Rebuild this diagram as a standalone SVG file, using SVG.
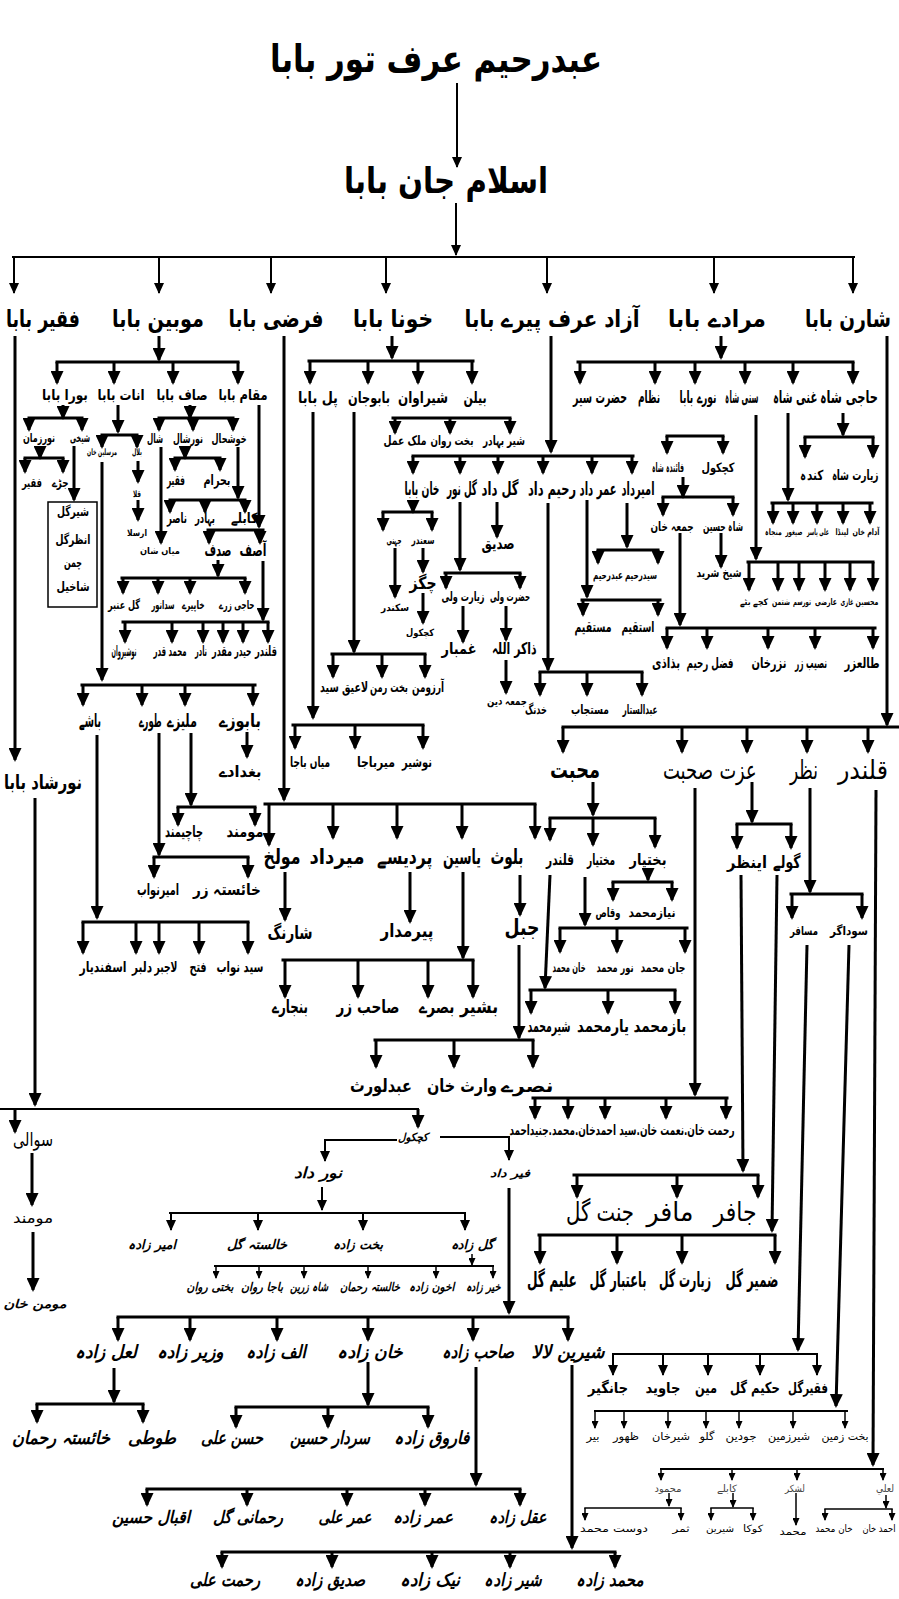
<svg xmlns="http://www.w3.org/2000/svg" width="899" height="1599" viewBox="0 0 899 1599">
<style>
text{font-family:'DejaVu Sans',sans-serif;text-anchor:middle;fill:#000}
.b{font-weight:bold}
.i{font-weight:bold;font-style:italic}
.g{fill:#444}
.s9{font-size:9px}.s10{font-size:10px}.s11{font-size:11px}.s12{font-size:12px}.s13{font-size:13px}.s14{font-size:14px}.s15{font-size:15px}.s16{font-size:16px}.s17{font-size:17px}.s18{font-size:18px}.s19{font-size:19px}.s20{font-size:20px}.s21{font-size:21px}.s22{font-size:22px}.s24{font-size:24px}.s26{font-size:26px}.s36{font-size:36px}.s38{font-size:38px}
.a{stroke:#000;stroke-width:3;fill:none;marker-end:url(#ah)}
.a2{stroke:#000;stroke-width:2;fill:none;marker-end:url(#ah2)}
.a3{stroke:#000;stroke-width:1.5;fill:none;marker-end:url(#ah3)}
.l{stroke:#000;stroke-width:3;fill:none;stroke-linecap:square}
.l2{stroke:#000;stroke-width:2;fill:none;stroke-linecap:square}
.l1{stroke:#000;stroke-width:1.5;fill:none;stroke-linecap:square}
</style>
<defs>
<marker id="ah" viewBox="0 0 14 13" refX="12" refY="6.5" markerWidth="14" markerHeight="13" markerUnits="userSpaceOnUse" orient="auto"><path d="M0,0L14,6.5L0,13z"/></marker>
<marker id="ah2" viewBox="0 0 11 10" refX="10" refY="5" markerWidth="11" markerHeight="10" markerUnits="userSpaceOnUse" orient="auto"><path d="M0,0L11,5L0,10z"/></marker>
<marker id="ah3" viewBox="0 0 8 7" refX="7" refY="3.5" markerWidth="8" markerHeight="7" markerUnits="userSpaceOnUse" orient="auto"><path d="M0,0L8,3.5L0,7z"/></marker>
</defs>
<rect width="899" height="1599" fill="#fff"/>
<g id="connectors">
<path class="a2" d="M457 83V167"/><path class="a2" d="M456 203V255"/><path class="l2" d="M13 257H854"/>
<path class="a2" d="M14 257V293"/><path class="a2" d="M159 257V293"/><path class="a2" d="M271 257V293"/><path class="a2" d="M386 257V293"/><path class="a2" d="M547 257V293"/><path class="a2" d="M714 257V293"/><path class="a2" d="M853 257V293"/>
<path class="a" d="M15 336V760"/>
<path class="a" d="M159 336V360"/><path class="l" d="M57 362H238"/>
<path class="a" d="M57 362V383"/><path class="a" d="M114 362V383"/><path class="a" d="M173 362V383"/><path class="a" d="M238 362V383"/>
<path class="a" d="M63 405V418"/><path class="l" d="M29 418H82"/><path class="a" d="M29 418V430"/><path class="a" d="M82 418V430"/>
<path class="a" d="M40 446V458"/><path class="l" d="M25 458H63"/><path class="a" d="M25 458V472"/><path class="a" d="M63 458V472"/>
<path class="a" d="M74 446V500"/>
<rect x="48" y="502" width="49" height="105" fill="none" stroke="#000" stroke-width="1.5"/>
<path class="a" d="M118 405V432"/><path class="l" d="M102 435H137"/><path class="a" d="M102 435V447"/><path class="a" d="M137 435V447"/>
<path class="a" d="M102 462V680"/>
<path class="a" d="M138 461V482"/><path class="a" d="M138 500V520"/>
<path class="a" d="M190 405V418"/><path class="l" d="M159 418H233"/><path class="a" d="M159 418V430"/><path class="a" d="M193 418V430"/><path class="a" d="M233 418V430"/>
<path class="a" d="M161 447V543"/>
<path class="a" d="M185 447V458"/><path class="l" d="M175 458H220"/><path class="a" d="M175 458V470"/><path class="a" d="M220 458V470"/>
<path class="a" d="M238 447V498"/><path class="l" d="M170 500H245"/><path class="a" d="M170 500V512"/><path class="a" d="M205 500V512"/><path class="a" d="M245 500V512"/>
<path class="a" d="M259 405V527"/><path class="l" d="M208 530H263"/><path class="a" d="M209 530V543"/><path class="a" d="M260 530V543"/>
<path class="a" d="M218 560V576"/><path class="l" d="M122 578H245"/><path class="a" d="M123 578V593"/><path class="a" d="M158 578V593"/><path class="a" d="M190 578V593"/><path class="a" d="M245 578V593"/>
<path class="a" d="M263 561V620"/><path class="l" d="M123 622H268"/><path class="a" d="M125 622V642"/><path class="a" d="M172 622V642"/><path class="a" d="M203 622V642"/><path class="a" d="M223 622V642"/><path class="a" d="M243 622V642"/><path class="a" d="M268 622V642"/>
<path class="l" d="M82 685H255"/><path class="a" d="M83 685V705"/><path class="a" d="M142 685V705"/><path class="a" d="M185 685V705"/><path class="a" d="M253 685V705"/>
<path class="a" d="M247 732V757"/>
<path class="a" d="M191 733V805"/><path class="l" d="M178 807H255"/><path class="a" d="M178 807V825"/><path class="a" d="M255 807V825"/>
<path class="a" d="M159 733V855"/><path class="l" d="M154 857H248"/><path class="a" d="M154 857V877"/><path class="a" d="M248 857V877"/>
<path class="a" d="M97 735V918"/><path class="l" d="M83 922H248"/><path class="a" d="M83 922V953"/><path class="a" d="M136 922V953"/><path class="a" d="M159 922V953"/><path class="a" d="M199 922V953"/><path class="a" d="M248 922V953"/>
<path class="a" d="M35 798V1105"/><path class="l2" d="M0 1109H418"/><path class="a" d="M15 1109V1132"/><path class="a" d="M418 1109V1127"/>
<path class="a" d="M32 1153V1205"/><path class="a" d="M33 1232V1290"/>
<path class="a2" d="M440 1137H509V1160"/><path class="a2" d="M397 1140H325V1161"/>
<path class="a2" d="M322 1187V1210"/><path class="l2" d="M170 1213H465"/><path class="a2" d="M171 1213V1230"/><path class="a2" d="M258 1213V1230"/><path class="a2" d="M363 1213V1230"/><path class="a2" d="M465 1213V1230"/>
<path class="a3" d="M472 1254V1265"/><path class="l2" d="M215 1266H493"/><path class="a3" d="M216 1266V1278"/><path class="a3" d="M259 1266V1278"/><path class="a3" d="M304 1266V1278"/><path class="a3" d="M368 1266V1278"/><path class="a3" d="M436 1266V1278"/><path class="a3" d="M493 1266V1278"/>
<path class="a" d="M509 1188V1313"/><path class="l" d="M118 1317H568"/><path class="a" d="M118 1317V1340"/><path class="a" d="M190 1317V1340"/><path class="a" d="M277 1317V1340"/><path class="a" d="M368 1317V1340"/><path class="a" d="M473 1317V1340"/><path class="a" d="M568 1317V1340"/>
<path class="a" d="M114 1368V1402"/><path class="l" d="M37 1404H143"/><path class="a" d="M37 1404V1422"/><path class="a" d="M143 1404V1422"/>
<path class="a" d="M368 1362V1405"/><path class="l" d="M236 1407H428"/><path class="a" d="M236 1407V1427"/><path class="a" d="M328 1407V1427"/><path class="a" d="M428 1407V1427"/>
<path class="a" d="M476 1367V1485"/><path class="l" d="M147 1489H520"/><path class="a" d="M147 1489V1505"/><path class="a" d="M247 1489V1505"/><path class="a" d="M347 1489V1505"/><path class="a" d="M425 1489V1505"/><path class="a" d="M520 1489V1505"/>
<path class="a" d="M572 1365V1548"/><path class="l" d="M222 1552H615"/><path class="a" d="M222 1552V1567"/><path class="a" d="M332 1552V1567"/><path class="a" d="M432 1552V1567"/><path class="a" d="M510 1552V1567"/><path class="a" d="M615 1552V1567"/>
<path class="a" d="M284 336V800"/><path class="l" d="M265 804H535"/><path class="a" d="M269 804V845"/><path class="a" d="M333 804V838"/><path class="a" d="M397 804V838"/><path class="a" d="M462 804V838"/><path class="a" d="M535 804V838"/>
<path class="a" d="M285 872V920"/><path class="a" d="M410 872V922"/>
<path class="a" d="M463 872V958"/><path class="l" d="M283 960H473"/><path class="a" d="M285 960V997"/><path class="a" d="M358 960V997"/><path class="a" d="M428 960V997"/><path class="a" d="M473 960V997"/>
<path class="a" d="M520 875V915"/>
<path class="a" d="M519 945V1038"/><path class="l" d="M375 1040H533"/><path class="a" d="M376 1040V1067"/><path class="a" d="M454 1040V1067"/><path class="a" d="M533 1040V1067"/>
<path class="a" d="M392 336V358"/><path class="l" d="M309 361H473"/><path class="a" d="M310 361V383"/><path class="a" d="M368 361V383"/><path class="a" d="M418 361V383"/><path class="a" d="M472 361V383"/>
<path class="l" d="M393 418H510"/><path class="a" d="M395 418V433"/><path class="a" d="M450 418V433"/><path class="a" d="M510 418V433"/>
<path class="a" d="M313 412V718"/><path class="l" d="M293 725H423"/><path class="a" d="M295 725V748"/><path class="a" d="M355 725V748"/><path class="a" d="M423 725V748"/>
<path class="a" d="M354 412V652"/><path class="l" d="M332 654H425"/><path class="a" d="M333 654V677"/><path class="a" d="M382 654V677"/><path class="a" d="M425 654V677"/>
<path class="a" d="M551 336V452"/><path class="l" d="M413 456H633"/><path class="a" d="M413 456V473"/><path class="a" d="M460 456V473"/><path class="a" d="M498 456V473"/><path class="a" d="M543 456V473"/><path class="a" d="M592 456V473"/><path class="a" d="M632 456V473"/>
<path class="a" d="M413 500V512"/><path class="l" d="M383 512H432"/><path class="a" d="M383 512V530"/><path class="a" d="M432 512V530"/>
<path class="a" d="M395 548V597"/><path class="a" d="M423 548V572"/><path class="a" d="M423 593V623"/>
<path class="a" d="M460 502V570"/><path class="l" d="M445 573H520"/><path class="a" d="M446 573V588"/><path class="a" d="M520 573V588"/>
<path class="a" d="M463 606V642"/><path class="a" d="M506 606V640"/><path class="a" d="M506 660V693"/>
<path class="a" d="M497 502V537"/>
<path class="a" d="M548 503V670"/><path class="l" d="M540 672H642"/><path class="a" d="M540 672V695"/><path class="a" d="M587 672V695"/><path class="a" d="M642 672V695"/>
<path class="a" d="M587 500V597"/><path class="l" d="M582 600H660"/><path class="a" d="M583 600V615"/><path class="a" d="M658 600V615"/>
<path class="a" d="M627 503V547"/><path class="l" d="M598 550H658"/><path class="a" d="M598 550V563"/><path class="a" d="M658 550V563"/>
<path class="a" d="M721 336V358"/><path class="l" d="M578 362H853"/><path class="a" d="M580 362V383"/><path class="a" d="M655 362V383"/><path class="a" d="M695 362V383"/><path class="a" d="M745 362V383"/><path class="a" d="M793 362V383"/><path class="a" d="M853 362V383"/>
<path class="a" d="M843 413V435"/><path class="l" d="M805 437H873"/><path class="a" d="M805 437V457"/><path class="a" d="M873 437V457"/>
<path class="a" d="M788 413V500"/><path class="l" d="M772 503H872"/><path class="a" d="M773 503V523"/><path class="a" d="M793 503V523"/><path class="a" d="M817 503V523"/><path class="a" d="M843 503V523"/><path class="a" d="M870 503V523"/>
<path class="a" d="M756 415V559"/><path class="l" d="M748 562H873"/><path class="a" d="M749 562V590"/><path class="a" d="M778 562V590"/><path class="a" d="M799 562V590"/><path class="a" d="M825 562V590"/><path class="a" d="M850 562V590"/><path class="a" d="M873 562V590"/>
<path class="l" d="M667 436H723"/><path class="a" d="M667 436V453"/><path class="a" d="M723 436V453"/>
<path class="a" d="M683 477V497"/><path class="l" d="M663 497H733"/><path class="a" d="M663 497V515"/><path class="a" d="M733 497V515"/>
<path class="a" d="M721 533V567"/>
<path class="a" d="M680 533V625"/><path class="l" d="M667 628H875"/><path class="a" d="M667 628V648"/><path class="a" d="M707 628V648"/><path class="a" d="M768 628V648"/><path class="a" d="M815 628V648"/><path class="a" d="M873 628V648"/>
<path class="a" d="M887 336V725"/><path class="l" d="M563 727H898"/><path class="a" d="M563 727V752"/><path class="a" d="M682 727V752"/><path class="a" d="M747 727V752"/><path class="a" d="M807 727V752"/><path class="a" d="M868 727V752"/>
<path class="a" d="M593 782V815"/><path class="l" d="M550 818H655"/><path class="a" d="M550 818V840"/><path class="a" d="M593 818V845"/><path class="a" d="M655 818V847"/>
<path class="a" d="M648 868V880"/><path class="l" d="M613 882H672"/><path class="a" d="M613 882V900"/><path class="a" d="M672 882V900"/>
<path class="a" d="M585 877V925"/><path class="l" d="M560 928H687"/><path class="a" d="M560 928V952"/><path class="a" d="M617 928V952"/><path class="a" d="M685 928V952"/>
<path class="a" d="M550 875L545 988"/><path class="l" d="M530 990H675"/><path class="a" d="M531 990V1013"/><path class="a" d="M608 990V1013"/><path class="a" d="M675 990V1013"/>
<path class="a" d="M695 788V1095"/><path class="l" d="M533 1098H727"/><path class="a" d="M535 1098V1118"/><path class="a" d="M568 1098V1118"/><path class="a" d="M605 1098V1118"/><path class="a" d="M666 1098V1118"/><path class="a" d="M726 1098V1118"/>
<path class="a" d="M752 782V822"/><path class="l" d="M737 824H791"/><path class="a" d="M737 824V848"/><path class="a" d="M791 824V848"/>
<path class="a" d="M741 875L743 1171"/><path class="l" d="M574 1175H758"/><path class="a" d="M577 1175V1197"/><path class="a" d="M677 1175V1197"/><path class="a" d="M758 1175V1197"/>
<path class="a" d="M777 875L772 1231"/><path class="l" d="M539 1235H775"/><path class="a" d="M540 1235V1263"/><path class="a" d="M617 1235V1263"/><path class="a" d="M682 1235V1263"/><path class="a" d="M775 1235V1263"/>
<path class="a" d="M810 788V892"/><path class="l" d="M791 894H862"/><path class="a" d="M792 894V918"/><path class="a" d="M862 894V918"/>
<path class="a" d="M807 945L798 1350"/><path class="l2" d="M613 1354H817"/><path class="a2" d="M613 1354V1375"/><path class="a2" d="M663 1354V1375"/><path class="a2" d="M708 1354V1375"/><path class="a2" d="M760 1354V1375"/><path class="a2" d="M817 1354V1375"/>
<path class="a" d="M849 945L836 1406"/><path class="l2" d="M595 1411H847"/><path class="a3" d="M595 1411V1428"/><path class="a3" d="M624 1411V1428"/><path class="a3" d="M668 1411V1428"/><path class="a3" d="M706 1411V1428"/><path class="a3" d="M739 1411V1428"/><path class="a3" d="M793 1411V1428"/><path class="a3" d="M845 1411V1428"/>
<path class="a" d="M876 790L873 1465"/><path class="l2" d="M661 1469H883"/><path class="a3" d="M661 1469V1480"/><path class="a3" d="M732 1469V1480"/><path class="a3" d="M797 1469V1480"/><path class="a3" d="M883 1469V1480"/>
<path class="a3" d="M669 1493V1506"/><path class="l1" d="M585 1508H681"/><path class="a3" d="M585 1508V1520"/><path class="a3" d="M681 1508V1520"/>
<path class="a3" d="M733 1493V1507"/><path class="l1" d="M711 1508H753"/><path class="a3" d="M711 1508V1520"/><path class="a3" d="M753 1508V1520"/>
<path class="a3" d="M796 1493V1525"/>
<path class="a3" d="M886 1495V1508"/><path class="l1" d="M825 1509H892"/><path class="a3" d="M825 1509V1520"/><path class="a3" d="M892 1509V1520"/>
</g>
<g id="n1"><text class="b s38" x="436" y="72" transform="matrix(.874 0 0 1 54.9 0)" textLength="380" lengthAdjust="spacingAndGlyphs">عبدرحیم عرف تور بابا</text></g>
<g id="n2"><text class="b s36" x="446" y="193" transform="matrix(.81 0 0 1 84.7 0)" textLength="252" lengthAdjust="spacingAndGlyphs">اسلام جان بابا</text></g>
<g id="n3"><text class="b s24" x="43" y="327" transform="matrix(.685 0 0 1 13.5 0)" textLength="108" lengthAdjust="spacingAndGlyphs">فقیر بابا</text></g>
<g id="n4"><text class="b s24" x="158" y="327" transform="matrix(.767 0 0 1 36.8 0)" textLength="120" lengthAdjust="spacingAndGlyphs">موبین بابا</text></g>
<g id="n5"><text class="b s24" x="276" y="327" transform="matrix(.88 0 0 1 33.1 0)" textLength="108" lengthAdjust="spacingAndGlyphs">فرضی بابا</text></g>
<g id="n6"><text class="b s24" x="393" y="327" transform="matrix(.741 0 0 1 101.8 0)" textLength="108" lengthAdjust="spacingAndGlyphs">خونا بابا</text></g>
<g id="n7"><text class="b s24" x="552" y="327" transform="matrix(.81 0 0 1 104.9 0)" textLength="216" lengthAdjust="spacingAndGlyphs">آزاد عرف پیرے بابا</text></g>
<g id="n8"><text class="b s24" x="717" y="327" transform="matrix(.817 0 0 1 131.2 0)" textLength="120" lengthAdjust="spacingAndGlyphs">مرادے بابا</text></g>
<g id="n9"><text class="b s24" x="848" y="327" transform="matrix(.796 0 0 1 173 0)" textLength="108" lengthAdjust="spacingAndGlyphs">شارن بابا</text></g>
<g id="n10"><text class="b s15" x="65" y="400" transform="matrix(.681 0 0 1 20.7 0)" textLength="67.5" lengthAdjust="spacingAndGlyphs">بورا بابا</text></g>
<g id="n11"><text class="b s15" x="121" y="400" transform="matrix(.696 0 0 1 36.8 0)" textLength="67.5" lengthAdjust="spacingAndGlyphs">انات بابا</text></g>
<g id="n12"><text class="b s15" x="182" y="400" transform="matrix(.85 0 0 1 27.3 0)" textLength="60" lengthAdjust="spacingAndGlyphs">صاف بابا</text></g>
<g id="n13"><text class="b s15" x="243" y="400" transform="matrix(.726 0 0 1 66.6 0)" textLength="67.5" lengthAdjust="spacingAndGlyphs">مقام بابا</text></g>
<g id="n14"><text class="b s12" x="80" y="442" transform="matrix(.833 0 0 1 13.4 0)" textLength="24" lengthAdjust="spacingAndGlyphs">شیخی</text></g>
<g id="n15"><text class="b s12" x="39" y="442" transform="matrix(.762 0 0 1 9.3 0)" textLength="42" lengthAdjust="spacingAndGlyphs">نورزمان</text></g>
<g id="n16"><text class="b s12" x="60" y="487" transform="matrix(.944 0 0 1 3.4 0)" textLength="18" lengthAdjust="spacingAndGlyphs">جڑے</text></g>
<g id="n17"><text class="b s12" x="32" y="487" transform="matrix(.833 0 0 1 5.3 0)" textLength="24" lengthAdjust="spacingAndGlyphs">فقیر</text></g>
<g id="n18"><text class="b s13" x="73" y="516" textLength="32" lengthAdjust="spacingAndGlyphs">شیرگل</text><text class="b s13" x="73" y="544" transform="matrix(.897 0 0 1 7.5 0)" textLength="39" lengthAdjust="spacingAndGlyphs">انظرگل</text><text class="b s13" x="73" y="567" transform="matrix(.923 0 0 1 5.6 0)" textLength="19.5" lengthAdjust="spacingAndGlyphs">چمن</text><text class="b s13" x="73" y="591" textLength="33" lengthAdjust="spacingAndGlyphs">شاخیل</text></g>
<g id="n19"><text class="b s9" x="137" y="455" transform="matrix(.556 0 0 1 60.8 0)" textLength="18" lengthAdjust="spacingAndGlyphs">بلال</text></g>
<g id="n20"><text class="b s9" x="102" y="455" transform="matrix(.667 0 0 1 34 0)" textLength="45" lengthAdjust="spacingAndGlyphs">مرسلین خان</text></g>
<g id="n21"><text class="b s9" x="137" y="497" transform="matrix(.593 0 0 1 55.8 0)" textLength="13.5" lengthAdjust="spacingAndGlyphs">قلا</text></g>
<g id="n22"><text class="b s9" x="137" y="536" transform="matrix(.889 0 0 1 15.2 0)" textLength="22.5" lengthAdjust="spacingAndGlyphs">ارسلا</text></g>
<g id="n23"><text class="b s13" x="155" y="443" transform="matrix(.821 0 0 1 27.8 0)" textLength="19.5" lengthAdjust="spacingAndGlyphs">شال</text></g>
<g id="n24"><text class="b s13" x="188" y="443" transform="matrix(.769 0 0 1 43.4 0)" textLength="39" lengthAdjust="spacingAndGlyphs">نورشال</text></g>
<g id="n25"><text class="b s13" x="229" y="443" transform="matrix(.897 0 0 1 23.6 0)" textLength="39" lengthAdjust="spacingAndGlyphs">خوشحال</text></g>
<g id="n26"><text class="b s9" x="160" y="554" textLength="40" lengthAdjust="spacingAndGlyphs">میاں شان</text></g>
<g id="n27"><text class="b s14" x="176" y="485" transform="matrix(.643 0 0 1 62.8 0)" textLength="28" lengthAdjust="spacingAndGlyphs">فقیر</text></g>
<g id="n28"><text class="b s14" x="217" y="485" transform="matrix(.771 0 0 1 49.7 0)" textLength="35" lengthAdjust="spacingAndGlyphs">بحرام</text></g>
<g id="n29"><text class="b s14" x="177" y="523" transform="matrix(.714 0 0 1 50.6 0)" textLength="28" lengthAdjust="spacingAndGlyphs">ناصر</text></g>
<g id="n30"><text class="b s14" x="205" y="523" transform="matrix(.571 0 0 1 87.9 0)" textLength="35" lengthAdjust="spacingAndGlyphs">بہادر</text></g>
<g id="n31"><text class="b s14" x="244" y="523" transform="matrix(.771 0 0 1 55.9 0)" textLength="35" lengthAdjust="spacingAndGlyphs">کابلے</text></g>
<g id="n32"><text class="b s17" x="218" y="556" transform="matrix(.794 0 0 1 44.9 0)" textLength="34" lengthAdjust="spacingAndGlyphs">صدف</text></g>
<g id="n33"><text class="b s17" x="253" y="556" transform="matrix(.794 0 0 1 52.1 0)" textLength="34" lengthAdjust="spacingAndGlyphs">آصف</text></g>
<g id="n34"><text class="b s12" x="124" y="609" transform="matrix(.762 0 0 1 29.5 0)" textLength="42" lengthAdjust="spacingAndGlyphs">گل عنبر</text></g>
<g id="n35"><text class="b s12" x="163" y="609" transform="matrix(.639 0 0 1 58.8 0)" textLength="36" lengthAdjust="spacingAndGlyphs">سدانور</text></g>
<g id="n36"><text class="b s12" x="193" y="609" transform="matrix(.639 0 0 1 69.7 0)" textLength="36" lengthAdjust="spacingAndGlyphs">خاپیرے</text></g>
<g id="n37"><text class="b s12" x="237" y="609" transform="matrix(.729 0 0 1 64.2 0)" textLength="48" lengthAdjust="spacingAndGlyphs">حاجی زرے</text></g>
<g id="n38"><text class="b s14" x="124" y="656" transform="matrix(.446 0 0 1 68.7 0)" textLength="56" lengthAdjust="spacingAndGlyphs">نوشیروان</text></g>
<g id="n39"><text class="b s14" x="170" y="656" transform="matrix(.589 0 0 1 69.9 0)" textLength="56" lengthAdjust="spacingAndGlyphs">محمد قدر</text></g>
<g id="n40"><text class="b s14" x="201" y="656" transform="matrix(.429 0 0 1 114.8 0)" textLength="28" lengthAdjust="spacingAndGlyphs">نادر</text></g>
<g id="n41"><text class="b s14" x="222" y="656" transform="matrix(.714 0 0 1 63.5 0)" textLength="28" lengthAdjust="spacingAndGlyphs">مقدر</text></g>
<g id="n42"><text class="b s14" x="243" y="656" transform="matrix(.607 0 0 1 95.5 0)" textLength="28" lengthAdjust="spacingAndGlyphs">حیدر</text></g>
<g id="n43"><text class="b s14" x="266" y="656" transform="matrix(.629 0 0 1 98.7 0)" textLength="35" lengthAdjust="spacingAndGlyphs">قلندر</text></g>
<g id="n44"><text class="b s18" x="90" y="727" transform="matrix(.611 0 0 1 35 0)" textLength="36" lengthAdjust="spacingAndGlyphs">باشے</text></g>
<g id="n45"><text class="b s18" x="150" y="727" transform="matrix(.639 0 0 1 54.2 0)" textLength="36" lengthAdjust="spacingAndGlyphs">طورے</text></g>
<g id="n46"><text class="b s18" x="182" y="727" transform="matrix(.667 0 0 1 60.6 0)" textLength="45" lengthAdjust="spacingAndGlyphs">ملیزے</text></g>
<g id="n47"><text class="b s18" x="240" y="727" transform="matrix(.778 0 0 1 53.3 0)" textLength="54" lengthAdjust="spacingAndGlyphs">بابوزے</text></g>
<g id="n48"><text class="b s16" x="240" y="777" transform="matrix(.896 0 0 1 25 0)" textLength="48" lengthAdjust="spacingAndGlyphs">بغدادے</text></g>
<g id="n49"><text class="b s16" x="184" y="837" transform="matrix(.679 0 0 1 59.1 0)" textLength="56" lengthAdjust="spacingAndGlyphs">چاچیمند</text></g>
<g id="n50"><text class="b s16" x="245" y="837" transform="matrix(.925 0 0 1 18.4 0)" textLength="40" lengthAdjust="spacingAndGlyphs">مومند</text></g>
<g id="n51"><text class="b s16" x="158" y="895" transform="matrix(.656 0 0 1 54.4 0)" textLength="64" lengthAdjust="spacingAndGlyphs">امیرنواب</text></g>
<g id="n52"><text class="b s16" x="227" y="895" transform="matrix(.944 0 0 1 12.7 0)" textLength="72" lengthAdjust="spacingAndGlyphs">خائستہ زر</text></g>
<g id="n53"><text class="b s15" x="103" y="972" transform="matrix(.783 0 0 1 22.4 0)" textLength="60" lengthAdjust="spacingAndGlyphs">اسفندیار</text></g>
<g id="n54"><text class="b s15" x="142" y="972" transform="matrix(.667 0 0 1 47.3 0)" textLength="30" lengthAdjust="spacingAndGlyphs">دلبر</text></g>
<g id="n55"><text class="b s15" x="166" y="972" transform="matrix(.613 0 0 1 64.2 0)" textLength="37.5" lengthAdjust="spacingAndGlyphs">لاجبر</text></g>
<g id="n56"><text class="b s15" x="198" y="972" transform="matrix(.756 0 0 1 48.4 0)" textLength="22.5" lengthAdjust="spacingAndGlyphs">فتح</text></g>
<g id="n57"><text class="b s15" x="240" y="972" transform="matrix(.783 0 0 1 52 0)" textLength="60" lengthAdjust="spacingAndGlyphs">سید نواب</text></g>
<g id="n58"><text class="b s20" x="43" y="789" transform="matrix(.709 0 0 1 12.5 0)" textLength="110" lengthAdjust="spacingAndGlyphs">نورشاد بابا</text></g>
<g id="n59"><text class="s19" x="33" y="1146" transform="matrix(.842 0 0 1 5.2 0)" textLength="47.5" lengthAdjust="spacingAndGlyphs">سوالی</text></g>
<g id="n60"><text class="s15" x="33" y="1223" textLength="40" lengthAdjust="spacingAndGlyphs">مومند</text></g>
<g id="n61"><text class="i s12" x="35" y="1308" textLength="63" lengthAdjust="spacingAndGlyphs">مومن خان</text></g>
<g id="n62"><text class="i s11" x="413" y="1141" textLength="30" lengthAdjust="spacingAndGlyphs">کچکول</text></g>
<g id="n63"><text class="i s15" x="318" y="1178" transform="matrix(.914 0 0 1 27.3 0)" textLength="52.5" lengthAdjust="spacingAndGlyphs">نور داد</text></g>
<g id="n64"><text class="i s11" x="510" y="1177" textLength="40" lengthAdjust="spacingAndGlyphs">فیر داد</text></g>
<g id="n65"><text class="i s13" x="152" y="1249" transform="matrix(.821 0 0 1 27.2 0)" textLength="58.5" lengthAdjust="spacingAndGlyphs">امیر زادہ</text></g>
<g id="n66"><text class="i s13" x="257" y="1249" textLength="60" lengthAdjust="spacingAndGlyphs">خالستہ گل</text></g>
<g id="n67"><text class="i s13" x="358" y="1249" transform="matrix(.962 0 0 1 13.6 0)" textLength="52" lengthAdjust="spacingAndGlyphs">بخت زادہ</text></g>
<g id="n68"><text class="i s13" x="472" y="1249" transform="matrix(.945 0 0 1 26 0)" textLength="45.5" lengthAdjust="spacingAndGlyphs">گل زادہ</text></g>
<g id="n69"><text class="i s12" x="210" y="1291" transform="matrix(.87 0 0 1 27.3 0)" textLength="54" lengthAdjust="spacingAndGlyphs">بختی روان</text></g>
<g id="n70"><text class="i s12" x="262" y="1291" transform="matrix(.778 0 0 1 58.2 0)" textLength="54" lengthAdjust="spacingAndGlyphs">باجا روان</text></g>
<g id="n71"><text class="i s12" x="309" y="1291" transform="matrix(.792 0 0 1 64.3 0)" textLength="48" lengthAdjust="spacingAndGlyphs">شاہ زرین</text></g>
<g id="n72"><text class="i s12" x="370" y="1291" transform="matrix(.833 0 0 1 61.8 0)" textLength="72" lengthAdjust="spacingAndGlyphs">خالستہ رحمان</text></g>
<g id="n73"><text class="i s12" x="432" y="1291" transform="matrix(.833 0 0 1 72.1 0)" textLength="54" lengthAdjust="spacingAndGlyphs">اخون زادہ</text></g>
<g id="n74"><text class="i s12" x="483" y="1291" transform="matrix(.729 0 0 1 130.9 0)" textLength="48" lengthAdjust="spacingAndGlyphs">خیر زادہ</text></g>
<g id="n75"><text class="i s18" x="106" y="1358" transform="matrix(.861 0 0 1 14.7 0)" textLength="72" lengthAdjust="spacingAndGlyphs">لعل زادہ</text></g>
<g id="n76"><text class="i s18" x="190" y="1358" transform="matrix(.827 0 0 1 32.9 0)" textLength="81" lengthAdjust="spacingAndGlyphs">وزیر زادہ</text></g>
<g id="n77"><text class="i s18" x="276" y="1358" transform="matrix(.833 0 0 1 46.1 0)" textLength="72" lengthAdjust="spacingAndGlyphs">الف زادہ</text></g>
<g id="n78"><text class="i s18" x="370" y="1358" transform="matrix(.903 0 0 1 35.9 0)" textLength="72" lengthAdjust="spacingAndGlyphs">خان زادہ</text></g>
<g id="n79"><text class="i s18" x="478" y="1358" transform="matrix(.889 0 0 1 53.1 0)" textLength="81" lengthAdjust="spacingAndGlyphs">صاحب زادہ</text></g>
<g id="n80"><text class="i s18" x="568" y="1358" transform="matrix(.811 0 0 1 107.4 0)" textLength="90" lengthAdjust="spacingAndGlyphs">شیرین لالا</text></g>
<g id="n81"><text class="i s18" x="61" y="1444" transform="matrix(.907 0 0 1 5.7 0)" textLength="108" lengthAdjust="spacingAndGlyphs">خائستہ رحمان</text></g>
<g id="n82"><text class="i s18" x="152" y="1444" textLength="48" lengthAdjust="spacingAndGlyphs">طوطی</text></g>
<g id="n83"><text class="i s18" x="232" y="1444" textLength="62" lengthAdjust="spacingAndGlyphs">حسن علی</text></g>
<g id="n84"><text class="i s18" x="330" y="1444" transform="matrix(.889 0 0 1 36.6 0)" textLength="90" lengthAdjust="spacingAndGlyphs">سردار حسین</text></g>
<g id="n85"><text class="i s18" x="432" y="1444" transform="matrix(.833 0 0 1 72.1 0)" textLength="90" lengthAdjust="spacingAndGlyphs">فاروق زادہ</text></g>
<g id="n86"><text class="i s17" x="151" y="1523" transform="matrix(.918 0 0 1 12.4 0)" textLength="85" lengthAdjust="spacingAndGlyphs">اقبال حسین</text></g>
<g id="n87"><text class="i s17" x="248" y="1523" transform="matrix(.915 0 0 1 21.1 0)" textLength="76.5" lengthAdjust="spacingAndGlyphs">رحمانی گل</text></g>
<g id="n88"><text class="i s17" x="345" y="1523" transform="matrix(.891 0 0 1 37.6 0)" textLength="59.5" lengthAdjust="spacingAndGlyphs">عمر علی</text></g>
<g id="n89"><text class="i s17" x="423" y="1523" transform="matrix(.882 0 0 1 49.9 0)" textLength="68" lengthAdjust="spacingAndGlyphs">عمر زادہ</text></g>
<g id="n90"><text class="i s17" x="518" y="1523" transform="matrix(.838 0 0 1 83.9 0)" textLength="68" lengthAdjust="spacingAndGlyphs">عقل زادہ</text></g>
<g id="n91"><text class="i s18" x="225" y="1586" transform="matrix(.972 0 0 1 6.3 0)" textLength="72" lengthAdjust="spacingAndGlyphs">رحمت علی</text></g>
<g id="n92"><text class="i s18" x="330" y="1586" transform="matrix(.864 0 0 1 44.9 0)" textLength="81" lengthAdjust="spacingAndGlyphs">صدیق زادہ</text></g>
<g id="n93"><text class="i s18" x="430" y="1586" transform="matrix(.833 0 0 1 71.8 0)" textLength="72" lengthAdjust="spacingAndGlyphs">نیک زادہ</text></g>
<g id="n94"><text class="i s18" x="513" y="1586" transform="matrix(.792 0 0 1 106.7 0)" textLength="72" lengthAdjust="spacingAndGlyphs">شیر زادہ</text></g>
<g id="n95"><text class="i s18" x="610" y="1586" transform="matrix(.827 0 0 1 105.5 0)" textLength="81" lengthAdjust="spacingAndGlyphs">محمد زادہ</text></g>
<g id="n96"><text class="b s21" x="282" y="864" transform="matrix(.881 0 0 1 33.6 0)" textLength="42" lengthAdjust="spacingAndGlyphs">مولخ</text></g>
<g id="n97"><text class="b s21" x="337" y="864" transform="matrix(.873 0 0 1 42.8 0)" textLength="63" lengthAdjust="spacingAndGlyphs">میرداد</text></g>
<g id="n98"><text class="b s21" x="405" y="864" transform="matrix(.873 0 0 1 51.4 0)" textLength="63" lengthAdjust="spacingAndGlyphs">پردیسے</text></g>
<g id="n99"><text class="b s21" x="462" y="864" transform="matrix(.724 0 0 1 127.5 0)" textLength="52.5" lengthAdjust="spacingAndGlyphs">یاسین</text></g>
<g id="n100"><text class="b s21" x="507" y="864" transform="matrix(.786 0 0 1 108.5 0)" textLength="42" lengthAdjust="spacingAndGlyphs">بلوث</text></g>
<g id="n101"><text class="b s18" x="290" y="939" textLength="45" lengthAdjust="spacingAndGlyphs">شارنگ</text></g>
<g id="n102"><text class="b s18" x="407" y="937" transform="matrix(.841 0 0 1 64.7 0)" textLength="63" lengthAdjust="spacingAndGlyphs">پیرمدار</text></g>
<g id="n103"><text class="b s18" x="290" y="1013" transform="matrix(.667 0 0 1 96.6 0)" textLength="54" lengthAdjust="spacingAndGlyphs">بنجارے</text></g>
<g id="n104"><text class="b s18" x="368" y="1013" textLength="63" lengthAdjust="spacingAndGlyphs">صاحب زر</text></g>
<g id="n105"><text class="b s18" x="437" y="1013" transform="matrix(.748 0 0 1 110.1 0)" textLength="46.8" lengthAdjust="spacingAndGlyphs">بصرے</text></g>
<g id="n106"><text class="b s18" x="479" y="1013" transform="matrix(.812 0 0 1 90.1 0)" textLength="46.8" lengthAdjust="spacingAndGlyphs">بشیر</text></g>
<g id="n107"><text class="b s22" x="522" y="935" textLength="35" lengthAdjust="spacingAndGlyphs">جبل</text></g>
<g id="n108"><text class="b s18" x="381" y="1092" textLength="62" lengthAdjust="spacingAndGlyphs">عبدلورث</text></g>
<g id="n109"><text class="b s18" x="462" y="1092" transform="matrix(.972 0 0 1 12.9 0)" textLength="72" lengthAdjust="spacingAndGlyphs">وارث خان</text></g>
<g id="n110"><text class="b s18" x="527" y="1092" textLength="53" lengthAdjust="spacingAndGlyphs">نصرے</text></g>
<g id="n111"><text class="b s16" x="318" y="403" transform="matrix(.714 0 0 1 90.9 0)" textLength="56" lengthAdjust="spacingAndGlyphs">پل بابا</text></g>
<g id="n112"><text class="b s16" x="369" y="403" transform="matrix(.75 0 0 1 92.3 0)" textLength="56" lengthAdjust="spacingAndGlyphs">بابوجان</text></g>
<g id="n113"><text class="b s16" x="423" y="403" transform="matrix(.893 0 0 1 45.3 0)" textLength="56" lengthAdjust="spacingAndGlyphs">شیراوان</text></g>
<g id="n114"><text class="b s16" x="475" y="403" transform="matrix(.719 0 0 1 133.6 0)" textLength="32" lengthAdjust="spacingAndGlyphs">بیلن</text></g>
<g id="n115"><text class="b s13" x="405" y="445" transform="matrix(.945 0 0 1 22.3 0)" textLength="45.5" lengthAdjust="spacingAndGlyphs">ملک عمل</text></g>
<g id="n116"><text class="b s13" x="452" y="445" transform="matrix(.827 0 0 1 78.2 0)" textLength="52" lengthAdjust="spacingAndGlyphs">بخت روان</text></g>
<g id="n117"><text class="b s13" x="504" y="445" transform="matrix(.718 0 0 1 142.1 0)" textLength="58.5" lengthAdjust="spacingAndGlyphs">شیر بہادر</text></g>
<g id="n118"><text class="b s14" x="310" y="767" transform="matrix(.635 0 0 1 113.2 0)" textLength="63" lengthAdjust="spacingAndGlyphs">میاں باجا</text></g>
<g id="n119"><text class="b s14" x="376" y="767" transform="matrix(.776 0 0 1 84.2 0)" textLength="49" lengthAdjust="spacingAndGlyphs">میرباجا</text></g>
<g id="n120"><text class="b s14" x="417" y="767" transform="matrix(.857 0 0 1 59.6 0)" textLength="35" lengthAdjust="spacingAndGlyphs">نوشیر</text></g>
<g id="n121"><text class="b s14" x="344" y="692" transform="matrix(.762 0 0 1 81.9 0)" textLength="63" lengthAdjust="spacingAndGlyphs">لاعیق سید</text></g>
<g id="n122"><text class="b s14" x="389" y="692" transform="matrix(.776 0 0 1 87.1 0)" textLength="49" lengthAdjust="spacingAndGlyphs">بخت رمن</text></g>
<g id="n123"><text class="b s14" x="428" y="692" transform="matrix(.762 0 0 1 101.9 0)" textLength="42" lengthAdjust="spacingAndGlyphs">آرزومن</text></g>
<g id="n124"><text class="b s18" x="422" y="495" transform="matrix(.486 0 0 1 216.9 0)" textLength="72" lengthAdjust="spacingAndGlyphs">خان بابا</text></g>
<g id="n125"><text class="b s18" x="462" y="495" transform="matrix(.556 0 0 1 205.1 0)" textLength="54" lengthAdjust="spacingAndGlyphs">گل نور</text></g>
<g id="n126"><text class="b s18" x="500" y="495" transform="matrix(.685 0 0 1 157.5 0)" textLength="54" lengthAdjust="spacingAndGlyphs">گل داد</text></g>
<g id="n127"><text class="b s18" x="552" y="495" transform="matrix(.667 0 0 1 183.8 0)" textLength="72" lengthAdjust="spacingAndGlyphs">رحیم داد</text></g>
<g id="n128"><text class="b s18" x="598" y="495" transform="matrix(.587 0 0 1 247 0)" textLength="63" lengthAdjust="spacingAndGlyphs">عمر داد</text></g>
<g id="n129"><text class="b s18" x="638" y="495" transform="matrix(.524 0 0 1 303.7 0)" textLength="63" lengthAdjust="spacingAndGlyphs">امیرداد</text></g>
<g id="n130"><text class="b s11" x="394" y="544" transform="matrix(.682 0 0 1 125.3 0)" textLength="22" lengthAdjust="spacingAndGlyphs">جہنی</text></g>
<g id="n131"><text class="b s11" x="423" y="544" transform="matrix(.836 0 0 1 69.4 0)" textLength="27.5" lengthAdjust="spacingAndGlyphs">سعندر</text></g>
<g id="n132"><text class="b s10" x="395" y="611" textLength="28" lengthAdjust="spacingAndGlyphs">سکندر</text></g>
<g id="n133"><text class="b s17" x="423" y="589" textLength="27" lengthAdjust="spacingAndGlyphs">چگز</text></g>
<g id="n134"><text class="b s10" x="420" y="636" textLength="28" lengthAdjust="spacingAndGlyphs">کچکول</text></g>
<g id="n135"><text class="b s13" x="463" y="601" transform="matrix(.735 0 0 1 122.7 0)" textLength="58.5" lengthAdjust="spacingAndGlyphs">زیارت ولی</text></g>
<g id="n136"><text class="b s13" x="510" y="601" transform="matrix(.769 0 0 1 117.8 0)" textLength="52" lengthAdjust="spacingAndGlyphs">حضرت ولی</text></g>
<g id="n137"><text class="b s16" x="459" y="654" transform="matrix(.875 0 0 1 57.4 0)" textLength="40" lengthAdjust="spacingAndGlyphs">غمبار</text></g>
<g id="n138"><text class="b s16" x="514" y="654" transform="matrix(.625 0 0 1 192.8 0)" textLength="72" lengthAdjust="spacingAndGlyphs">ذاکر اللہ</text></g>
<g id="n139"><text class="b s11" x="507" y="705" transform="matrix(.909 0 0 1 46.1 0)" textLength="44" lengthAdjust="spacingAndGlyphs">جمعہ دین</text></g>
<g id="n140"><text class="b s16" x="498" y="549" textLength="33" lengthAdjust="spacingAndGlyphs">صدیق</text></g>
<g id="n141"><text class="b s13" x="536" y="714" transform="matrix(.846 0 0 1 82.5 0)" textLength="26" lengthAdjust="spacingAndGlyphs">خدنگ</text></g>
<g id="n142"><text class="b s13" x="590" y="714" transform="matrix(.974 0 0 1 15.3 0)" textLength="39" lengthAdjust="spacingAndGlyphs">مستجاب</text></g>
<g id="n143"><text class="b s13" x="640" y="714" transform="matrix(.598 0 0 1 257.3 0)" textLength="58.5" lengthAdjust="spacingAndGlyphs">عبدالستار</text></g>
<g id="n144"><text class="b s15" x="593" y="632" transform="matrix(.822 0 0 1 105.6 0)" textLength="45" lengthAdjust="spacingAndGlyphs">مستقیم</text></g>
<g id="n145"><text class="b s15" x="638" y="632" transform="matrix(.733 0 0 1 170.3 0)" textLength="45" lengthAdjust="spacingAndGlyphs">استقیم</text></g>
<g id="n146"><text class="b s11" x="608" y="579" transform="matrix(.779 0 0 1 134.4 0)" textLength="38.5" lengthAdjust="spacingAndGlyphs">عبدرحیم</text></g>
<g id="n147"><text class="b s11" x="641" y="579" transform="matrix(.831 0 0 1 108.3 0)" textLength="38.5" lengthAdjust="spacingAndGlyphs">سیدرحیم</text></g>
<g id="n148"><text class="b s17" x="600" y="403" transform="matrix(.794 0 0 1 123.6 0)" textLength="68" lengthAdjust="spacingAndGlyphs">حضرت سیر</text></g>
<g id="n149"><text class="b s17" x="649" y="403" transform="matrix(.647 0 0 1 229.1 0)" textLength="34" lengthAdjust="spacingAndGlyphs">نظام</text></g>
<g id="n150"><text class="b s17" x="698" y="403" transform="matrix(.484 0 0 1 360.2 0)" textLength="76.5" lengthAdjust="spacingAndGlyphs">نورے بابا</text></g>
<g id="n151"><text class="b s17" x="742" y="403" transform="matrix(.555 0 0 1 330.2 0)" textLength="59.5" lengthAdjust="spacingAndGlyphs">سنی شاہ</text></g>
<g id="n152"><text class="b s17" x="795" y="403" transform="matrix(.756 0 0 1 194 0)" textLength="59.5" lengthAdjust="spacingAndGlyphs">غنی شاہ</text></g>
<g id="n153"><text class="b s17" x="849" y="403" transform="matrix(.853 0 0 1 124.8 0)" textLength="68" lengthAdjust="spacingAndGlyphs">حاجی شاہ</text></g>
<g id="n154"><text class="b s14" x="812" y="480" transform="matrix(.821 0 0 1 145.3 0)" textLength="28" lengthAdjust="spacingAndGlyphs">کندہ</text></g>
<g id="n155"><text class="b s14" x="855" y="480" transform="matrix(.746 0 0 1 217.2 0)" textLength="63" lengthAdjust="spacingAndGlyphs">زیارت شاہ</text></g>
<g id="n156"><text class="b s9" x="773" y="535" transform="matrix(.756 0 0 1 188.9 0)" textLength="22.5" lengthAdjust="spacingAndGlyphs">منجاہ</text></g>
<g id="n157"><text class="b s9" x="794" y="535" transform="matrix(.756 0 0 1 193.7 0)" textLength="22.5" lengthAdjust="spacingAndGlyphs">صیغور</text></g>
<g id="n158"><text class="b s9" x="818" y="535" transform="matrix(.611 0 0 1 318.2 0)" textLength="36" lengthAdjust="spacingAndGlyphs">علی یاسر</text></g>
<g id="n159"><text class="b s9" x="842" y="535" transform="matrix(.578 0 0 1 355.3 0)" textLength="22.5" lengthAdjust="spacingAndGlyphs">لینڈا</text></g>
<g id="n160"><text class="b s9" x="866" y="535" transform="matrix(.75 0 0 1 216.5 0)" textLength="36" lengthAdjust="spacingAndGlyphs">آدام خان</text></g>
<g id="n161"><text class="b s9" x="754" y="605" transform="matrix(.889 0 0 1 83.7 0)" textLength="31.5" lengthAdjust="spacingAndGlyphs">کچے بٹے</text></g>
<g id="n162"><text class="b s9" x="781" y="605" textLength="18" lengthAdjust="spacingAndGlyphs">شتمن</text></g>
<g id="n163"><text class="b s9" x="802" y="605" transform="matrix(.8 0 0 1 160.4 0)" textLength="22.5" lengthAdjust="spacingAndGlyphs">تورسم</text></g>
<g id="n164"><text class="b s9" x="826" y="605" transform="matrix(.978 0 0 1 18.2 0)" textLength="22.5" lengthAdjust="spacingAndGlyphs">عارضی</text></g>
<g id="n165"><text class="b s9" x="847" y="605" transform="matrix(.722 0 0 1 235.5 0)" textLength="18" lengthAdjust="spacingAndGlyphs">غازی</text></g>
<g id="n166"><text class="b s9" x="867" y="605" textLength="23" lengthAdjust="spacingAndGlyphs">محسین</text></g>
<g id="n167"><text class="b s13" x="668" y="472" transform="matrix(.492 0 0 1 339.3 0)" textLength="65" lengthAdjust="spacingAndGlyphs">فائندہ شاہ</text></g>
<g id="n168"><text class="b s13" x="718" y="472" textLength="33" lengthAdjust="spacingAndGlyphs">کچکول</text></g>
<g id="n169"><text class="b s13" x="672" y="531" transform="matrix(.827 0 0 1 116.3 0)" textLength="52" lengthAdjust="spacingAndGlyphs">جمعہ خان</text></g>
<g id="n170"><text class="b s13" x="723" y="531" transform="matrix(.769 0 0 1 167 0)" textLength="52" lengthAdjust="spacingAndGlyphs">شاہ حسین</text></g>
<g id="n171"><text class="b s12" x="719" y="577" transform="matrix(.9375 0 0 1 44.9 0)" textLength="48" lengthAdjust="spacingAndGlyphs">شیخ شرید</text></g>
<g id="n172"><text class="b s15" x="666" y="668" transform="matrix(.747 0 0 1 168.5 0)" textLength="37.5" lengthAdjust="spacingAndGlyphs">بذاذی</text></g>
<g id="n173"><text class="b s15" x="710" y="668" transform="matrix(.783 0 0 1 154.1 0)" textLength="60" lengthAdjust="spacingAndGlyphs">فضل رحیم</text></g>
<g id="n174"><text class="b s15" x="769" y="668" transform="matrix(.778 0 0 1 170.7 0)" textLength="45" lengthAdjust="spacingAndGlyphs">نزرخان</text></g>
<g id="n175"><text class="b s15" x="811" y="668" transform="matrix(.61 0 0 1 316.3 0)" textLength="52.5" lengthAdjust="spacingAndGlyphs">نصیب زر</text></g>
<g id="n176"><text class="b s15" x="862" y="668" transform="matrix(.778 0 0 1 191.4 0)" textLength="45" lengthAdjust="spacingAndGlyphs">طالعزر</text></g>
<g id="n177"><text class="b s24" x="575" y="778" textLength="50" lengthAdjust="spacingAndGlyphs">محبت</text></g>
<g id="n178"><text class="s26" x="688" y="779" transform="matrix(.962 0 0 1 26.1 0)" textLength="52" lengthAdjust="spacingAndGlyphs">صحبت</text></g>
<g id="n179"><text class="s26" x="738" y="779" transform="matrix(.949 0 0 1 37.6 0)" textLength="39" lengthAdjust="spacingAndGlyphs">عزت</text></g>
<g id="n180"><text class="s26" x="804" y="779" transform="matrix(.718 0 0 1 226.7 0)" textLength="39" lengthAdjust="spacingAndGlyphs">نظر</text></g>
<g id="n181"><text class="s26" x="863" y="779" transform="matrix(.769 0 0 1 199.3 0)" textLength="65" lengthAdjust="spacingAndGlyphs">قلندر</text></g>
<g id="n182"><text class="b s16" x="560" y="865" transform="matrix(.7 0 0 1 168 0)" textLength="40" lengthAdjust="spacingAndGlyphs">قلندر</text></g>
<g id="n183"><text class="b s16" x="601" y="865" transform="matrix(.583 0 0 1 250.6 0)" textLength="48" lengthAdjust="spacingAndGlyphs">مختیار</text></g>
<g id="n184"><text class="b s16" x="648" y="865" transform="matrix(.771 0 0 1 148.4 0)" textLength="48" lengthAdjust="spacingAndGlyphs">بختیار</text></g>
<g id="n185"><text class="b s13" x="608" y="917" transform="matrix(.962 0 0 1 23.1 0)" textLength="26" lengthAdjust="spacingAndGlyphs">وقاص</text></g>
<g id="n186"><text class="b s13" x="652" y="917" transform="matrix(.904 0 0 1 62.6 0)" textLength="52" lengthAdjust="spacingAndGlyphs">نیازمحمد</text></g>
<g id="n187"><text class="b s13" x="569" y="972" transform="matrix(.635 0 0 1 207.7 0)" textLength="52" lengthAdjust="spacingAndGlyphs">خان محمد</text></g>
<g id="n188"><text class="b s13" x="615" y="972" transform="matrix(.712 0 0 1 177.1 0)" textLength="52" lengthAdjust="spacingAndGlyphs">نور محمد</text></g>
<g id="n189"><text class="b s13" x="663" y="972" transform="matrix(.865 0 0 1 89.5 0)" textLength="52" lengthAdjust="spacingAndGlyphs">جان محمد</text></g>
<g id="n190"><text class="b s17" x="549" y="1032" transform="matrix(.723 0 0 1 152.1 0)" textLength="59.5" lengthAdjust="spacingAndGlyphs">شیرمحمد</text></g>
<g id="n191"><text class="b s17" x="603" y="1032" transform="matrix(.874 0 0 1 76 0)" textLength="59.5" lengthAdjust="spacingAndGlyphs">یارمحمد</text></g>
<g id="n192"><text class="b s17" x="660" y="1032" transform="matrix(.891 0 0 1 71.9 0)" textLength="59.5" lengthAdjust="spacingAndGlyphs">بازمحمد</text></g>
<g id="n193"><text class="b s17" x="747" y="868" transform="matrix(.941 0 0 1 44.1 0)" textLength="42.5" lengthAdjust="spacingAndGlyphs">اینظر</text></g>
<g id="n194"><text class="b s17" x="787" y="868" transform="matrix(.794 0 0 1 162.1 0)" textLength="34" lengthAdjust="spacingAndGlyphs">گولے</text></g>
<g id="n195"><text class="b s12" x="804" y="935" transform="matrix(.933 0 0 1 53.9 0)" textLength="30" lengthAdjust="spacingAndGlyphs">مسافر</text></g>
<g id="n196"><text class="b s12" x="849" y="935" textLength="38" lengthAdjust="spacingAndGlyphs">سوداگر</text></g>
<g id="n197"><text class="b s14" x="622" y="1135" transform="matrix(.748 0 0 1 156.7 0)" textLength="301" lengthAdjust="spacingAndGlyphs">رحمت خان.نعمت خان.سید احمدخان.محمد.جنیداحمد</text></g>
<g id="n198"><text class="s26" x="600" y="1221" transform="matrix(.872 0 0 1 76.8 0)" textLength="78" lengthAdjust="spacingAndGlyphs">جنت گل</text></g>
<g id="n199"><text class="s26" x="670" y="1221" transform="matrix(.904 0 0 1 64.3 0)" textLength="52" lengthAdjust="spacingAndGlyphs">مافر</text></g>
<g id="n200"><text class="s26" x="735" y="1221" transform="matrix(.827 0 0 1 127.2 0)" textLength="52" lengthAdjust="spacingAndGlyphs">جافر</text></g>
<g id="n201"><text class="b s21" x="552" y="1287" transform="matrix(.68 0 0 1 176.6 0)" textLength="73.5" lengthAdjust="spacingAndGlyphs">علیم گل</text></g>
<g id="n202"><text class="b s21" x="618" y="1287" transform="matrix(.543 0 0 1 282.4 0)" textLength="105" lengthAdjust="spacingAndGlyphs">باعتبار گل</text></g>
<g id="n203"><text class="b s21" x="685" y="1287" transform="matrix(.619 0 0 1 261 0)" textLength="84" lengthAdjust="spacingAndGlyphs">زیارت گل</text></g>
<g id="n204"><text class="b s21" x="752" y="1287" transform="matrix(.721 0 0 1 209.8 0)" textLength="73.5" lengthAdjust="spacingAndGlyphs">ضمیر گل</text></g>
<g id="n205"><text class="b s15" x="608" y="1393" transform="matrix(.889 0 0 1 67.5 0)" textLength="45" lengthAdjust="spacingAndGlyphs">جانگیر</text></g>
<g id="n206"><text class="b s15" x="663" y="1393" transform="matrix(.933 0 0 1 44.4 0)" textLength="37.5" lengthAdjust="spacingAndGlyphs">جاوید</text></g>
<g id="n207"><text class="b s15" x="706" y="1393" transform="matrix(.978 0 0 1 15.5 0)" textLength="22.5" lengthAdjust="spacingAndGlyphs">مین</text></g>
<g id="n208"><text class="b s15" x="755" y="1393" transform="matrix(.952 0 0 1 36.2 0)" textLength="52.5" lengthAdjust="spacingAndGlyphs">حکیم گل</text></g>
<g id="n209"><text class="b s15" x="808" y="1393" transform="matrix(.889 0 0 1 89.7 0)" textLength="45" lengthAdjust="spacingAndGlyphs">فقیرگل</text></g>
<g id="n210"><text class="s11" x="593" y="1440" transform="matrix(.788 0 0 1 125.7 0)" textLength="16.5" lengthAdjust="spacingAndGlyphs">بیر</text></g>
<g id="n211"><text class="s11" x="626" y="1440" textLength="26" lengthAdjust="spacingAndGlyphs">ظهور</text></g>
<g id="n212"><text class="s11" x="671" y="1440" textLength="38" lengthAdjust="spacingAndGlyphs">شیرخان</text></g>
<g id="n213"><text class="s11" x="707" y="1440" transform="matrix(.909 0 0 1 64.3 0)" textLength="16.5" lengthAdjust="spacingAndGlyphs">گلو</text></g>
<g id="n214"><text class="s11" x="741" y="1440" textLength="31" lengthAdjust="spacingAndGlyphs">جودین</text></g>
<g id="n215"><text class="s11" x="789" y="1440" textLength="42" lengthAdjust="spacingAndGlyphs">شیرزمین</text></g>
<g id="n216"><text class="s11" x="845" y="1440" textLength="47" lengthAdjust="spacingAndGlyphs">بخت زمین</text></g>
<g id="n217"><text class="s10 g" x="668" y="1492" textLength="27" lengthAdjust="spacingAndGlyphs">محمود</text></g>
<g id="n218"><text class="s10 g" x="727" y="1492" transform="matrix(.8 0 0 1 145.4 0)" textLength="25" lengthAdjust="spacingAndGlyphs">کابلے</text></g>
<g id="n219"><text class="s10 g" x="795" y="1492" textLength="20" lengthAdjust="spacingAndGlyphs">لشکر</text></g>
<g id="n220"><text class="s10 g" x="885" y="1492" transform="matrix(.9 0 0 1 88.5 0)" textLength="20" lengthAdjust="spacingAndGlyphs">لعلي</text></g>
<g id="n221"><text class="s10" x="614" y="1532" textLength="68" lengthAdjust="spacingAndGlyphs">دوست محمد</text></g>
<g id="n222"><text class="s10" x="681" y="1532" textLength="17" lengthAdjust="spacingAndGlyphs">ثمر</text></g>
<g id="n223"><text class="s10" x="720" y="1532" textLength="28" lengthAdjust="spacingAndGlyphs">شیرین</text></g>
<g id="n224"><text class="s10" x="753" y="1532" textLength="20" lengthAdjust="spacingAndGlyphs">کوکا</text></g>
<g id="n225"><text class="s10" x="793" y="1535" textLength="27" lengthAdjust="spacingAndGlyphs">محمد</text></g>
<g id="n226"><text class="s10" x="834" y="1532" transform="matrix(.925 0 0 1 62.6 0)" textLength="40" lengthAdjust="spacingAndGlyphs">خان محمد</text></g>
<g id="n227"><text class="s10" x="879" y="1532" transform="matrix(.825 0 0 1 153.8 0)" textLength="40" lengthAdjust="spacingAndGlyphs">احمد خان</text></g>
</svg>
